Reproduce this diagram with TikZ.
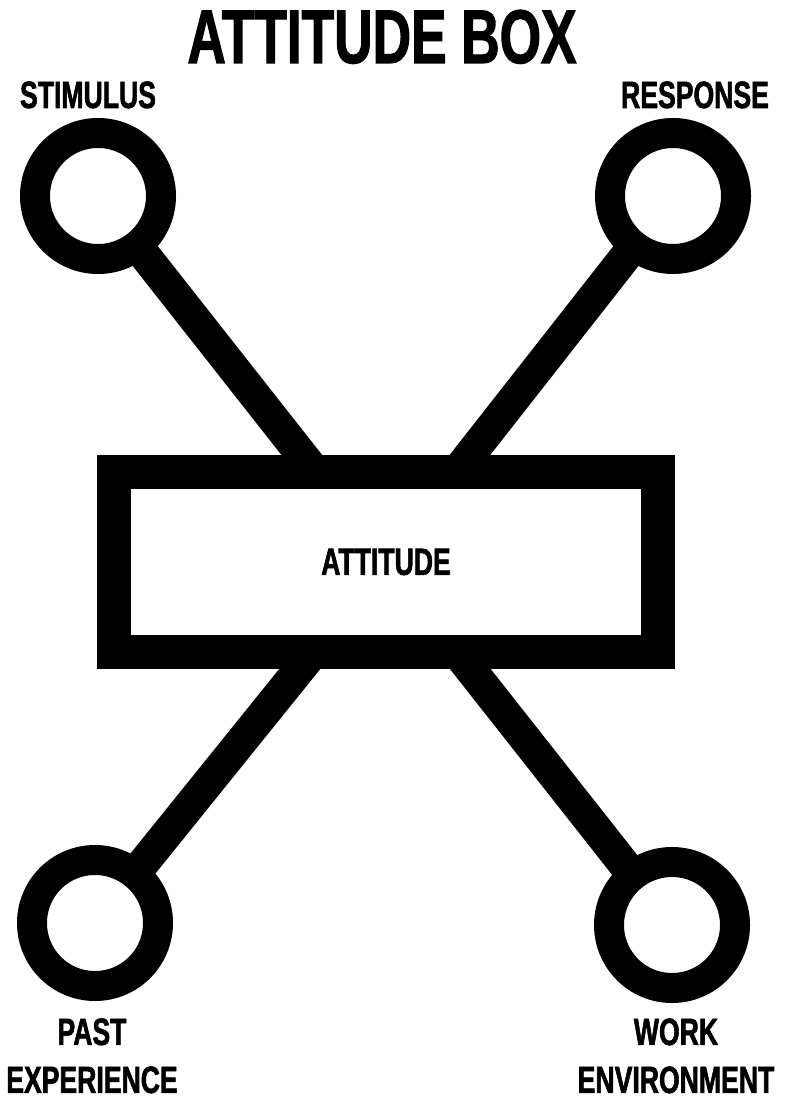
\documentclass[tikz,border=0pt]{standalone}
\usepackage{fontspec}
\newfontfamily\boxfont[FakeStretch=0.7,BoldFeatures={FakeBold=1.5}]{Liberation Sans}
\usetikzlibrary{backgrounds}
\definecolor{attInk}{HTML}{000000}
\tikzset{
  ring/.style={circle, draw=attInk, fill=white, line width=15pt,
              minimum size=63pt, inner sep=0pt},
  attbox/.style={rectangle, draw=attInk, fill=white, line width=17pt,
              minimum width=272pt, minimum height=90pt, inner sep=0pt,
              font=\boxfont\bfseries\fontsize{19}{24}\selectfont},
  heading/.style={font=\boxfont\bfseries\fontsize{38}{44}\selectfont,
              inner sep=0pt, anchor=base},
  lbl/.style={font=\boxfont\bfseries\fontsize{19}{24}\selectfont,
              inner sep=0pt, align=center},
  link/.style={draw=attInk, line width=16pt},
}

\begin{document}
\begin{tikzpicture}[x=0.5pt,y=-0.5pt]
        \useasboundingbox (0,0) rectangle (787,1101);
        \node[heading] (title) at (382,63) {ATTITUDE BOX};
        % the box and the four rings
        \node[attbox] (att) at (386,562) {ATTITUDE};
        \node[ring] (stim) at (98,196) {};
        \node[ring] (resp) at (673,196) {};
        \node[ring] (past) at (95,923) {};
        \node[ring] (work) at (672,925) {};
        % labels
        \node[lbl,anchor=base] (stimlbl) at (88,108) {STIMULUS};
        \node[lbl,anchor=base] (resplbl) at (695,108) {RESPONSE};
        \node[lbl,anchor=north] (pastlbl) at (92,1018) {PAST\\EXPERIENCE};
        \node[lbl,anchor=north] (worklbl) at (676,1018) {WORK\\ENVIRONMENT};
        % links run under the white fills
        \begin{scope}[on background layer]
          \foreach \r in {stim,resp,past,work}
            \draw[link] (\r.center) -- (att.center);
        \end{scope}
      \end{tikzpicture}
\end{document}
